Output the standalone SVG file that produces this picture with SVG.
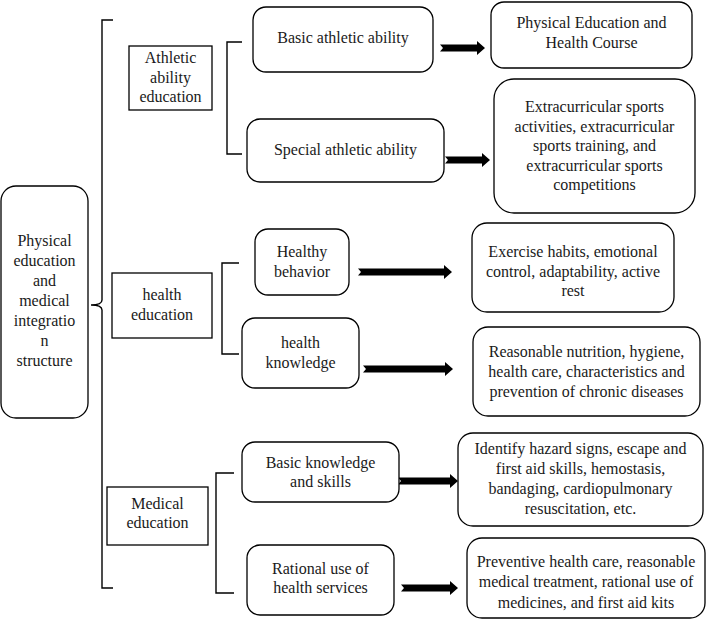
<svg xmlns="http://www.w3.org/2000/svg" width="710" height="626" viewBox="0 0 710 626">
<style>
.box{fill:#fff;stroke:#000;stroke-width:1.3}
.br{fill:none;stroke:#000;stroke-width:1.4}
.arr{fill:#000;stroke:none}
text{font-family:"Liberation Serif","Times New Roman",serif;font-size:16px;fill:#1a1a1a;text-anchor:middle}
</style>
<rect width="710" height="626" fill="#fff"/>
<g id="connectors">
<path class="br" d="M113,20 H102 V300 Q102,305 91,305 Q102,305 102,310 V588 H113"/>
<path class="br" d="M242,42 H227 V154 H242"/>
<path class="br" d="M239,263 H222 V354 H239"/>
<path class="br" d="M234,473 H216 V593 H234"/>
<polygon class="arr" points="440,44.5 477,44.5 477,41 485,48 477,55 477,51.5 440,51.5 443,48"/>
<polygon class="arr" points="445,156.5 482,156.5 482,153 490,160 482,167 482,163.5 445,163.5 448,160"/>
<polygon class="arr" points="358,268.5 444,268.5 444,265 452,272 444,279 444,275.5 358,275.5 361,272"/>
<polygon class="arr" points="363,365.5 445,365.5 445,362 453,369 445,376 445,372.5 363,372.5 366,369"/>
<polygon class="arr" points="398,477.5 450,477.5 450,474 458,481 450,488 450,484.5 398,484.5 401,481"/>
<polygon class="arr" points="401,584.5 450,584.5 450,581 458,588 450,595 450,591.5 401,591.5 404,588"/>
</g>
<g id="root">
<rect class="box" x="1" y="186" width="87" height="232" rx="15"/>
<text x="44.5" y="246">Physical</text>
<text x="44.5" y="266">education</text>
<text x="44.5" y="286">and</text>
<text x="44.5" y="306">medical</text>
<text x="44.5" y="326">integratio</text>
<text x="44.5" y="346">n</text>
<text x="44.5" y="366">structure</text>
</g>
<g id="athletic">
<rect class="box" x="129" y="46" width="83" height="64"/>
<text x="170.5" y="63">Athletic</text>
<text x="170.5" y="83">ability</text>
<text x="170.5" y="102">education</text>
</g>
<g id="basic-athletic">
<rect class="box" x="253" y="7" width="180" height="65" rx="13"/>
<text x="343" y="43">Basic athletic ability</text>
</g>
<g id="pe-course">
<rect class="box" x="491" y="2" width="201" height="66" rx="13"/>
<text x="591.5" y="28">Physical Education and</text>
<text x="591.5" y="48">Health Course</text>
</g>
<g id="special-athletic">
<rect class="box" x="247" y="119" width="197" height="63" rx="13"/>
<text x="345.5" y="155">Special athletic ability</text>
</g>
<g id="extracurricular">
<rect class="box" x="494" y="79" width="201" height="134" rx="20"/>
<text x="594.5" y="112">Extracurricular sports</text>
<text x="594.5" y="132">activities, extracurricular</text>
<text x="594.5" y="151">sports training, and</text>
<text x="594.5" y="171">extracurricular sports</text>
<text x="594.5" y="190">competitions</text>
</g>
<g id="health-education">
<rect class="box" x="112" y="273" width="100" height="65"/>
<text x="162" y="300">health</text>
<text x="162" y="320">education</text>
</g>
<g id="healthy-behavior">
<rect class="box" x="255" y="229" width="94" height="66" rx="13"/>
<text x="302" y="257">Healthy</text>
<text x="302" y="277">behavior</text>
</g>
<g id="exercise-habits">
<rect class="box" x="472" y="223" width="202" height="89" rx="15"/>
<text x="573" y="257">Exercise habits, emotional</text>
<text x="573" y="277">control, adaptability, active</text>
<text x="573" y="296">rest</text>
</g>
<g id="health-knowledge">
<rect class="box" x="242" y="318" width="117" height="70" rx="13"/>
<text x="300.5" y="348">health</text>
<text x="300.5" y="368">knowledge</text>
</g>
<g id="nutrition">
<rect class="box" x="473" y="327" width="227" height="89" rx="15"/>
<text x="586.5" y="357">Reasonable nutrition, hygiene,</text>
<text x="586.5" y="377">health care, characteristics and</text>
<text x="586.5" y="397">prevention of chronic diseases</text>
</g>
<g id="medical-education">
<rect class="box" x="107" y="487" width="101" height="58"/>
<text x="157.5" y="509">Medical</text>
<text x="157.5" y="528">education</text>
</g>
<g id="basic-knowledge">
<rect class="box" x="242" y="442" width="157" height="60" rx="13"/>
<text x="320.5" y="468">Basic knowledge</text>
<text x="320.5" y="487">and skills</text>
</g>
<g id="identify-hazard">
<rect class="box" x="458" y="433" width="245" height="93" rx="15"/>
<text x="580.5" y="454">Identify hazard signs, escape and</text>
<text x="580.5" y="474">first aid skills, hemostasis,</text>
<text x="580.5" y="494">bandaging, cardiopulmonary</text>
<text x="580.5" y="514">resuscitation, etc.</text>
</g>
<g id="rational-use">
<rect class="box" x="247" y="545" width="147" height="70" rx="13"/>
<text x="320.5" y="574">Rational use of</text>
<text x="320.5" y="593">health services</text>
</g>
<g id="preventive">
<rect class="box" x="467" y="538" width="238" height="80" rx="15"/>
<text x="586" y="567">Preventive health care, reasonable</text>
<text x="586" y="587">medical treatment, rational use of</text>
<text x="586" y="608">medicines, and first aid kits</text>
</g>
</svg>
